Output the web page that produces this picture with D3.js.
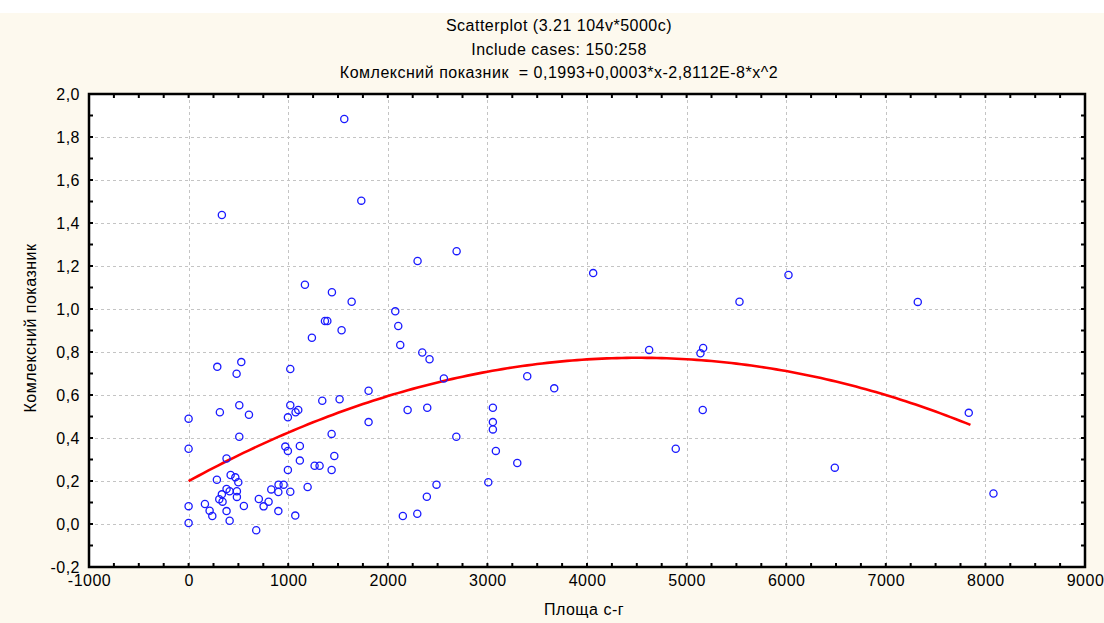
<!DOCTYPE html>
<html>
<head>
<meta charset="utf-8">
<script src="https://cdn.jsdelivr.net/npm/d3@7"></script>
<style>
	body { margin: 0; background: #fdf9ee; }
	svg text { font-family: Arial, "Liberation Sans", sans-serif; fill: #000; letter-spacing: 0.5px; white-space: pre; }
</style>
</head>
<body>
<div id="chart"></div>
<script>
// chart values
let titleLines = [
	"Scatterplot (3.21 104v*5000c)",
	"Include cases: 150:258",
	"Комлексний показник  = 0,1993+0,0003*x-2,8112E-8*x^2"
];
let xLabel = "Площа с-г";
let yLabel = "Комлексний показник";

let xTicks = [-1000, 0, 1000, 2000, 3000, 4000, 5000, 6000, 7000, 8000, 9000];
let yTicks = [-0.2, 0, 0.2, 0.4, 0.6, 0.8, 1.0, 1.2, 1.4, 1.6, 1.8, 2.0];

// area (x) of each case
let area = [
	0, 0, 0, 0, 164, 211, 238, 284, 288, 314,
	334, 334, 308, 341, 381, 381, 412, 381, 412, 422,
	469, 499, 485, 485, 482, 529, 509, 509, 555, 606,
	679, 705, 753, 803, 830, 903, 954, 901, 901, 971,
	997, 997, 997, 1021, 1021, 1021, 1071, 1074, 1101, 1117,
	1117, 1168, 1195, 1238, 1265, 1315, 1342, 1369, 1393, 1436,
	1436, 1439, 1463, 1516, 1536, 1563, 1637, 1734, 1807, 1807,
	2075, 2105, 2125, 2151, 2199, 2296, 2299, 2346, 2392, 2396,
	2419, 2489, 2563, 2688, 2691, 3009, 3055, 3055, 3055, 3085,
	3300, 3400, 3671, 4062, 4624, 4891, 5139, 5166, 5162, 5531,
	6023, 6488, 7321, 7833, 8081
];
// complex index (y) of each case
let index = [
	0.49, 0.35, 0.083, 0.005, 0.093, 0.062, 0.037, 0.206, 0.731, 0.52,
	1.437, 0.138, 0.115, 0.104, 0.305, 0.163, 0.152, 0.060, 0.015, 0.228,
	0.217, 0.194, 0.152, 0.126, 0.699, 0.753, 0.552, 0.406, 0.084, 0.508,
	-0.029, 0.116, 0.082, 0.104, 0.161, 0.183, 0.183, 0.149, 0.060, 0.360,
	0.340, 0.496, 0.251, 0.552, 0.721, 0.150, 0.039, 0.520, 0.530, 0.363,
	0.295, 1.113, 0.172, 0.866, 0.271, 0.271, 0.573, 0.944, 0.944, 0.419,
	0.251, 1.078, 0.316, 0.580, 0.901, 1.884, 1.034, 1.504, 0.620, 0.474,
	0.989, 0.921, 0.833, 0.037, 0.530, 0.048, 1.223, 0.798, 0.127, 0.541,
	0.766, 0.183, 0.677, 0.406, 1.269, 0.194, 0.541, 0.474, 0.440, 0.340,
	0.284, 0.687, 0.631, 1.167, 0.809, 0.350, 0.794, 0.819, 0.530, 1.034,
	1.158, 0.262, 1.033, 0.517, 0.142
];

// quadratic fit (coefficients; linear term unrounded from the printed 0,0003)
let fitCoef = [0.1993, 0.000254, -2.8112e-8];
let fitRange = [0, 7850];

let width = 1104, height = 623;
let margin = {top: 94, right: 19, bottom: 56, left: 89};
let plotW = width - margin.left - margin.right;
let plotH = height - margin.top - margin.bottom;
let fontSize = 16;

let svg = d3.select("#chart").append("svg")
	.attr("width", width)
	.attr("height", height);

svg.append("rect").attr("width", width).attr("height", height).attr("fill", "#fdf9ee");
// white strip of the page above the picture
svg.append("rect").attr("width", width).attr("height", 13).attr("fill", "#ffffff");

// titles
svg.append("g").selectAll("text")
	.data(titleLines)
	.enter()
	.append("text")
	.attr("x", 559)
	.attr("y", (d, i) => 31 + i * 23.5)
	.attr("text-anchor", "middle")
	.attr("font-size", fontSize)
	.text(d => d);

let g = svg.append("g")
	.attr("transform", "translate(" + margin.left + "," + margin.top + ")");

let x = d3.scaleLinear().domain([-1000, 9000]).range([0, plotW]);
let y = d3.scaleLinear().domain([-0.2, 2.0]).range([plotH, 0]);

g.append("rect").attr("width", plotW).attr("height", plotH).attr("fill", "#ffffff");

// grid
g.append("g").selectAll("line")
	.data(xTicks.slice(1, -1))
	.enter()
	.append("line")
	.attr("x1", d => Math.round(x(d)) + 0.5).attr("x2", d => Math.round(x(d)) + 0.5)
	.attr("y1", 0).attr("y2", plotH)
	.attr("stroke", "#c4c4c4").attr("stroke-dasharray", "3,3");
g.append("g").selectAll("line")
	.data(yTicks.slice(1, -1))
	.enter()
	.append("line")
	.attr("y1", d => Math.round(y(d)) + 0.5).attr("y2", d => Math.round(y(d)) + 0.5)
	.attr("x1", 0).attr("x2", plotW)
	.attr("stroke", "#c4c4c4").attr("stroke-dasharray", "3,3");

// axes: minor ticks point inward on all four sides
let xMinor = d3.range(-1000, 9001, 250);
let yMinor = d3.range(-0.2, 2.001, 0.1);

let xAxisBottom = d3.axisBottom(x).tickValues(xTicks).tickSize(0).tickPadding(8)
	.tickFormat(d => String(d));
g.append("g")
	.attr("class", "axis x-axis")
	.attr("transform", "translate(0," + plotH + ")")
	.call(xAxisBottom)
	.call(a => a.select(".domain").remove())
	.selectAll("text").attr("font-size", fontSize).attr("font-family", "Arial, 'Liberation Sans', sans-serif");

let yAxisLeft = d3.axisLeft(y).tickValues(yTicks).tickSize(0).tickPadding(9)
	.tickFormat(d => d.toFixed(1).replace(".", ","));
g.append("g")
	.attr("class", "axis y-axis")
	.call(yAxisLeft)
	.call(a => a.select(".domain").remove())
	.selectAll("text").attr("font-size", fontSize).attr("font-family", "Arial, 'Liberation Sans', sans-serif");

let ticks = g.append("g").attr("stroke", "#000").attr("stroke-width", 2);
ticks.selectAll(".tb").data(xMinor).enter().append("line")
	.attr("x1", d => x(d)).attr("x2", d => x(d)).attr("y1", plotH).attr("y2", plotH - 4);
ticks.selectAll(".tt").data(xMinor).enter().append("line")
	.attr("x1", d => x(d)).attr("x2", d => x(d)).attr("y1", 0).attr("y2", 4);
ticks.selectAll(".tl").data(yMinor).enter().append("line")
	.attr("y1", d => y(d)).attr("y2", d => y(d)).attr("x1", 0).attr("x2", 4);
ticks.selectAll(".tr").data(yMinor).enter().append("line")
	.attr("y1", d => y(d)).attr("y2", d => y(d)).attr("x1", plotW).attr("x2", plotW - 4);

// fitted curve
let curvePts = d3.range(fitRange[0], fitRange[1] + 1, 50)
	.map(v => [v, fitCoef[0] + fitCoef[1] * v + fitCoef[2] * v * v]);
g.append("path")
	.datum(curvePts)
	.attr("fill", "none")
	.attr("stroke", "#ff0000")
	.attr("stroke-width", 2.6)
	.attr("d", d3.line().x(d => x(d[0])).y(d => y(d[1])));

// points
g.append("g").selectAll("circle")
	.data(area.map((a, i) => ({a: a, v: index[i]})))
	.enter()
	.append("circle")
	.attr("cx", d => x(d.a))
	.attr("cy", d => y(d.v))
	.attr("r", 3.6)
	.attr("fill", "none")
	.attr("stroke", "#1a1aff")
	.attr("stroke-width", 1.3);

// frame
g.append("rect")
	.attr("width", plotW).attr("height", plotH)
	.attr("fill", "none").attr("stroke", "#000").attr("stroke-width", 2.5);

// axis titles
svg.append("text")
	.attr("x", 584).attr("y", 615)
	.attr("text-anchor", "middle").attr("font-size", fontSize)
	.text(xLabel);
svg.append("text")
	.attr("transform", "translate(36,328) rotate(-90)")
	.attr("text-anchor", "middle").attr("font-size", fontSize)
	.text(yLabel);
</script>
</body>
</html>
